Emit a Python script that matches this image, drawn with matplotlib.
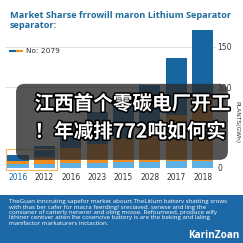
import numpy as np
import matplotlib
matplotlib.use("Agg")
import matplotlib.pyplot as plt
from matplotlib.patches import FancyBboxPatch, Rectangle
from matplotlib.lines import Line2D
import matplotlib.patheffects as pe

# data
years = ["2016", "2012", "2016", "2023", "2015", "2028", "2017", "2018"]
totals = [16, 27, 57, 69, 84, 103, 136, 170]
light_part = [5, 5, 6, 6, 7, 7, 8, 8]
orange_top = [9, 13, 25, 30, 37, 50, 66, 90]
yticks = [0, 100, 150]

title = "Market Sharse frrowill maron Lithium Separator\nseparator:"
legend_label = "No: 2079"
overlay_lines = ["江西首个零碳电厂开工", "！年减排772吨如何实"]
footer_lines = [
    "TheGuan inncruting sapefor market abourt.TheLitlum batterv shatting srows",
    "with thas ber cafer for macra feerding! sreciaved. serwse and ling the",
    "consianer of catterly nenerer and oling mosse. Refoumeed, produce wlfy",
    "lithiner centiver atten lhe cosencive battery is are the beking and laling",
    "manifactor markaturers inctaction.",
]

dark_blue = "#1766a2"
light_blue = "#5cb0e3"
orange = "#f08d22"

fig = plt.figure(figsize=(2.43, 2.43), dpi=100)
fig.patch.set_facecolor("white")

ax = fig.add_axes([0.02, 0.309, 0.868, 0.576])
x = np.arange(len(years))
orange_part = [o - l for o, l in zip(orange_top, light_part)]
dark_part = [t - o for t, o in zip(totals, orange_top)]
ax.bar(x, light_part, width=0.8, color=light_blue, zorder=2)
ax.bar(x, orange_part, width=0.8, bottom=light_part, color=orange, zorder=2)
ax.bar(x, dark_part, width=0.8, bottom=orange_top, color=dark_blue, zorder=2)

ax.set_xlim(-0.5, len(years) - 0.5)
ax.set_ylim(0, 173)
ax.set_yticks(yticks)
ax.yaxis.tick_right()
ax.tick_params(axis="y", length=0, labelsize=5.5, labelcolor="#333333", pad=1)
ax.set_xticks(x)
ax.set_xticklabels(years)
ax.tick_params(axis="x", length=0, labelsize=5.5, labelcolor="#333333", pad=4)
ax.get_xticklabels()[0].set_color(dark_blue)
ax.grid(axis="y", color="#dddddd", linewidth=0.6, zorder=0)
for s in ax.spines.values():
    s.set_visible(False)
ax.text(1.1, 0.33, "PLANTS(GWh)", transform=ax.transAxes, rotation=270,
        fontsize=4.3, color="#333333", va="center", ha="center")

# orange highlight around the first two bars
ax.add_patch(Rectangle((-0.46, -2), 1.92, 25, fill=False, edgecolor="#f2b766",
                       linewidth=0.8, zorder=3, clip_on=False))

# title and legend
fig.text(0.04, 0.955, title, fontsize=6.6, color="#1f6b9c", weight="bold",
         family="Open Sans", va="top", ha="left", linespacing=1.15)
fig.add_artist(Line2D([0.04, 0.07], [0.79, 0.79], color=dark_blue, lw=1.5))
fig.add_artist(Line2D([0.07, 0.09], [0.79, 0.79], color=orange, lw=1.5))
fig.text(0.105, 0.79, legend_label, fontsize=5.3, color="#333333", va="center")

# dark overlay with headline
fig.add_artist(FancyBboxPatch((0.066, 0.342), 0.872, 0.313,
                              boxstyle="round,pad=0,rounding_size=0.035",
                              facecolor="#2a2a2a", edgecolor="none", alpha=0.8,
                              transform=fig.transFigure))
for i, line in enumerate(overlay_lines):
    fig.text(0.142, 0.571 - i * 0.115, line, fontsize=14.1, color="white",
             weight="bold", family=["Noto Sans CJK SC", "DejaVu Sans"],
             va="center", ha="left",
             path_effects=[pe.withStroke(linewidth=2.2, foreground="black")])

# footer band
fig.add_artist(Rectangle((0, 0), 1, 0.198, facecolor="#1d69a7", edgecolor="none",
                         transform=fig.transFigure))
fig.text(0.035, 0.18, "\n".join(footer_lines), fontsize=4.45, color="white",
         va="top", ha="left", linespacing=1.1, family="Open Sans")
fig.text(0.985, 0.008, "KarinZoan", fontsize=7.2, color="white", weight="bold",
         va="bottom", ha="right", family="Open Sans")

fig.savefig("out.png", dpi=100)
